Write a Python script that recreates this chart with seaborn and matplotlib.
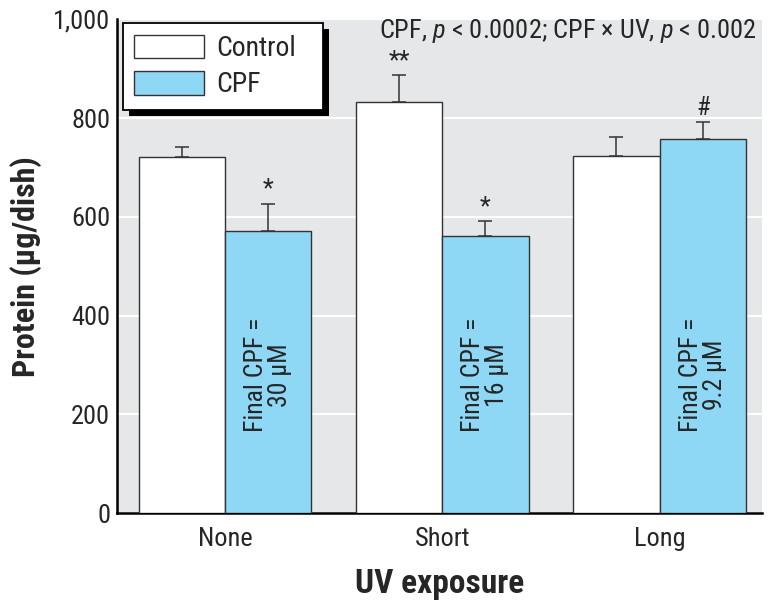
import matplotlib
matplotlib.use('Agg')
import matplotlib.pyplot as plt
from matplotlib import font_manager
from matplotlib.patches import Rectangle
from matplotlib.transforms import IdentityTransform
import seaborn as sns
import pandas as pd
import numpy as np

# values
exposure = ["None", "Short", "Long"]
groups = ["Control", "CPF"]
control_mean = [722, 833, 723]
control_err = [20, 55, 39]
cpf_mean = [572, 561, 757]
cpf_err = [55, 30, 36]
cpf_marks = ["*", "*", "#"]
control_marks = ["", "**", ""]
final_cpf = ["30 μM", "16 μM", "9.2 μM"]

df = pd.DataFrame({
    "UV exposure": exposure * 2,
    "group": ["Control"] * 3 + ["CPF"] * 3,
    "protein": control_mean + cpf_mean,
})

sns.set_theme(style="white")

# pick the first condensed family that is installed
main_font = "DejaVu Sans"
for fam in ["Roboto Condensed", "Liberation Sans Narrow"]:
    try:
        font_manager.findfont(fam, fallback_to_default=False)
        main_font = fam
        break
    except ValueError:
        pass
plt.rcParams["font.family"] = [main_font, "DejaVu Sans"]
plt.rcParams["mathtext.fontset"] = "custom"
plt.rcParams["mathtext.it"] = main_font + ":italic"
plt.rcParams["mathtext.rm"] = main_font

fig = plt.figure(figsize=(7.7, 6.08), dpi=100)
ax = fig.add_axes([0.152, 0.156, 0.838, 0.812])
ax.set_facecolor("#E6E7E8")

sns.barplot(data=df, x="UV exposure", y="protein", hue="group",
            order=exposure, hue_order=groups,
            palette={"Control": "white", "CPF": "#8ED8F6"}, saturation=1,
            edgecolor="#333333", linewidth=1.0, width=0.795, gap=0,
            errorbar=None, ax=ax, zorder=3)

errs = [control_err, cpf_err]
marks = [control_marks, cpf_marks]
for cont, err, mk in zip(ax.containers, errs, marks):
    xs = [b.get_x() + b.get_width() / 2 for b in cont]
    ys = [b.get_height() for b in cont]
    ax.errorbar(xs, ys, yerr=[np.zeros(len(err)), err], fmt="none",
                ecolor="#333333", elinewidth=1.1, capsize=5, capthick=1.1, zorder=2)
    for x, y, e, m in zip(xs, ys, err, mk):
        if m:
            ax.text(x, y + e + 4, m, ha="center", va="bottom", fontsize=18)

# labels inside the CPF bars
for b, lab in zip(ax.containers[1], final_cpf):
    x = b.get_x() + b.get_width() / 2
    ax.text(x, 280, "Final CPF =\n" + lab, rotation=90, ha="center", va="center",
            fontsize=18.5, multialignment="center", linespacing=1.0, zorder=4)

ax.set_ylim(0, 1000)
ax.set_xlim(-0.497, 2.473)
ax.set_yticks([0, 200, 400, 600, 800, 1000])
ax.set_yticklabels(["0", "200", "400", "600", "800", "1,000"])
ax.yaxis.grid(True, color="white", linewidth=1.5, zorder=0)
ax.set_axisbelow(True)
ax.tick_params(axis="both", labelsize=19, length=0)
ax.tick_params(axis="x", pad=10)
ax.tick_params(axis="y", pad=5)

for s in ["top", "right"]:
    ax.spines[s].set_visible(False)
for s in ["left", "bottom"]:
    ax.spines[s].set_color("black")
    ax.spines[s].set_linewidth(1.8)

ax.set_xlabel("UV exposure", fontsize=24, fontweight="bold", labelpad=12)
ax.set_ylabel("Protein (µg/dish)", fontsize=23, fontweight="bold", labelpad=8)

ax.text(0.991, 962, "CPF, $p$ < 0.0002; CPF × UV, $p$ < 0.002",
        transform=ax.get_yaxis_transform(), ha="right", va="baseline", fontsize=19)

leg = ax.legend(loc="upper left", bbox_to_anchor=(0.0093, 0.992, 0.31, 0.0),
                mode="expand", borderaxespad=0, frameon=True,
                fancybox=False, fontsize=20, handlelength=2.5, handleheight=0.95,
                borderpad=0.4, labelspacing=0.32, handletextpad=0.47)
leg.get_frame().set_edgecolor("black")
leg.get_frame().set_linewidth(1.3)
leg.get_frame().set_facecolor("white")
leg.get_frame().set_alpha(1)
leg.set_zorder(10)
for h in leg.legend_handles:
    h.set_edgecolor("#333333")
    h.set_linewidth(1.0)

# solid black drop shadow behind the legend box
fig.canvas.draw()
bb = leg.get_frame().get_window_extent()
shadow = Rectangle((bb.x0 + 6, bb.y0 - 6), bb.width, bb.height, facecolor="black",
                   edgecolor="none", transform=IdentityTransform(), zorder=9, clip_on=False)
ax.add_patch(shadow)

fig.savefig("out.png", dpi=100)
